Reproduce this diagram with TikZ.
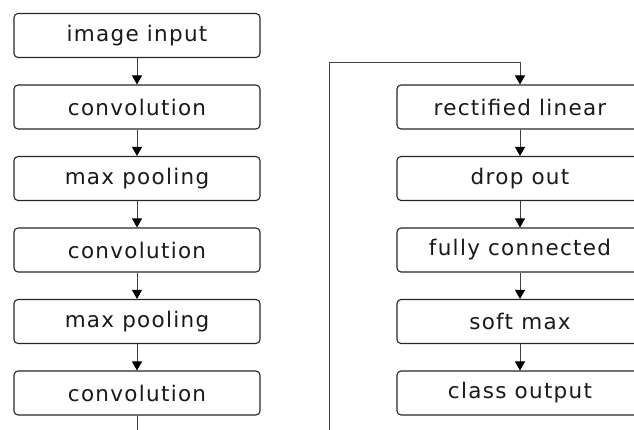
\documentclass[tikz,border=0pt]{standalone}
\usepackage{fontspec}
\setmainfont[LetterSpace=6]{DejaVu Sans}
\usetikzlibrary{arrows.meta}
\tikzset{
  layer/.style={draw=black!85, line width=1.1pt, rounded corners=4pt, minimum width=246pt, minimum height=44pt, inner sep=0pt, font=\fontsize{21.5}{24}\selectfont, text=black!90},
  flow/.style={draw=black!75, line width=0.9pt, -{Triangle[width=10pt,length=9pt,color=black]}},
  plain/.style={draw=black!75, line width=0.9pt}
}
\begin{document}
\begin{tikzpicture}[x=1pt,y=-1pt]
\useasboundingbox (0,0) rectangle (634,430);
\begin{scope}
\clip (0,0) rectangle (634,430);
\node[layer] (a1) at (137,35.5) {image input};
\node[layer] (a2) at (137,107) {convolution};
\node[layer] (a3) at (137,178.5) {max pooling};
\node[layer] (a4) at (137,250) {convolution};
\node[layer] (a5) at (137,321.5) {max pooling};
\node[layer] (a6) at (137,393) {convolution};
\node[layer] (b1) at (520,107) {rectified linear};
\node[layer] (b2) at (520,178.5) {drop out};
\node[layer] (b3) at (520,250) {fully connected};
\node[layer] (b4) at (520,321.5) {soft max};
\node[layer] (b5) at (520,393) {class output};
\coordinate (e1) at (137,432);
\coordinate (s0) at (329,432);
\coordinate (t1) at (329,62);
\coordinate (t2) at (520,62);
\draw[flow] (a1) -- (a2);
\draw[flow] (a2) -- (a3);
\draw[flow] (a3) -- (a4);
\draw[flow] (a4) -- (a5);
\draw[flow] (a5) -- (a6);
\draw[plain] (a6) -- (e1);
\draw[flow] (s0) -- (t1) -- (t2) -- (b1);
\draw[flow] (b1) -- (b2);
\draw[flow] (b2) -- (b3);
\draw[flow] (b3) -- (b4);
\draw[flow] (b4) -- (b5);
\end{scope}
\end{tikzpicture}
\end{document}
